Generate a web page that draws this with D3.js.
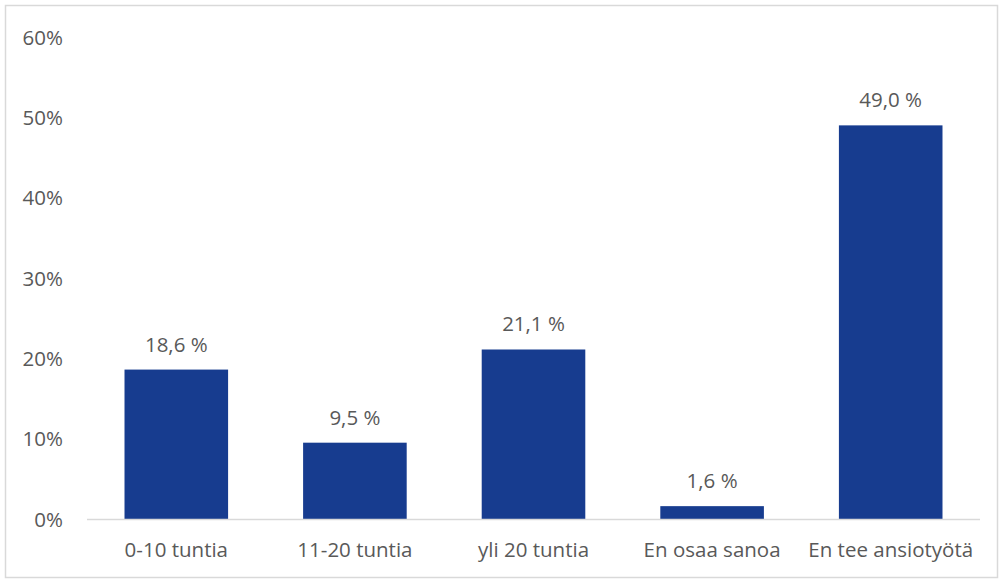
<!DOCTYPE html>
<html><head><meta charset="utf-8">
<script src="https://cdn.jsdelivr.net/npm/d3@7"></script>
<style>html,body{margin:0;padding:0;background:#fff}svg{display:block}</style>
</head><body>
<svg id="c" width="999" height="579"></svg>
<script>
const categories = ["0-10 tuntia","11-20 tuntia","yli 20 tuntia","En osaa sanoa","En tee ansiotyötä"];
const values = [18.6, 9.5, 21.1, 1.6, 49.0];
const yTicks = [0,10,20,30,40,50,60];

const svg = d3.select("#c");
const font = "'Open Sans', sans-serif";
const fs = 20.5;
const textColor = "#595959";
svg.append("rect").attr("x",5.5).attr("y",5.5).attr("width",992).attr("height",572)
  .attr("fill","#fff").attr("stroke","#d9d9d9").attr("stroke-width",1.5);

const x = d3.scaleBand().domain(categories).range([87,980]).paddingInner(0.42).paddingOuter(0.21);
const y = d3.scaleLinear().domain([0,60]).range([519,37]);

const yAxis = svg.append("g").attr("transform","translate(63,0)")
  .call(d3.axisLeft(y).tickValues(yTicks).tickSize(0).tickPadding(0).tickFormat(d=>d+"%"));
yAxis.select(".domain").remove();
yAxis.selectAll("text").attr("font-family",font).attr("font-size",fs).attr("fill",textColor).attr("dy","0.35em");

svg.append("g").selectAll("rect").data(values).join("rect")
  .attr("x",(d,i)=>x(categories[i])).attr("width",x.bandwidth())
  .attr("y",d=>y(d)).attr("height",d=>y(0)-y(d)).attr("fill","#173C8F");

svg.append("line").attr("x1",87).attr("x2",980).attr("y1",519.5).attr("y2",519.5)
  .attr("stroke","#d9d9d9").attr("stroke-width",1.5);

const xAxis = svg.append("g").attr("transform","translate(0,519)")
  .call(d3.axisBottom(x).tickSize(0).tickPadding(23));
xAxis.select(".domain").remove();
xAxis.selectAll("text").attr("font-family",font).attr("font-size",fs).attr("fill",textColor);

svg.append("g").selectAll("text").data(values).join("text")
  .attr("x",(d,i)=>x(categories[i])+x.bandwidth()/2).attr("y",d=>y(d)-18)
  .attr("text-anchor","middle").attr("font-family",font).attr("font-size",fs).attr("fill",textColor)
  .text(d=>d.toFixed(1).replace(".",",")+" %");
</script>
</body></html>
